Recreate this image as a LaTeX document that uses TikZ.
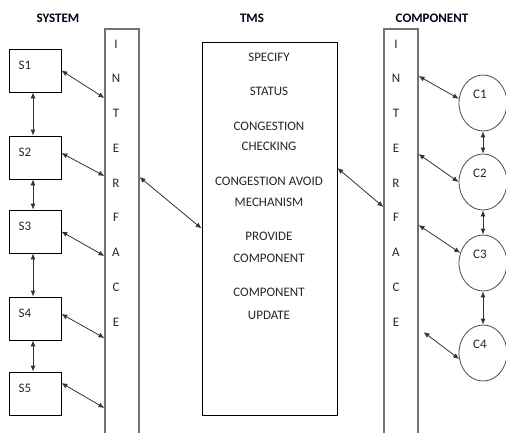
\documentclass[tikz,border=0pt]{standalone}
\usepackage{fontspec}
\setmainfont{Carlito}
\usepackage{xcolor}
\usepackage{tikz}
\usetikzlibrary{positioning, arrows.meta, shapes.geometric}

\begin{document}
\begin{tikzpicture}[x=1pt, y=-1pt, >={Latex[length=6pt,width=5pt]},
    every node/.style={font=\fontsize{13}{15}\selectfont, text=black!85},
    title/.style={font=\fontsize{13}{15}\selectfont\bfseries, text=black!90!blue},
    bar/.style={draw=black!55, line width=1.1pt, minimum width=34pt, minimum height=411pt, inner sep=0pt},
    sbox/.style={draw, line width=0.8pt, minimum width=52pt, minimum height=43pt, inner sep=0pt,
                 label={[anchor=center, xshift=-10pt, yshift=5.5pt]center:#1}},
    cnode/.style={draw=black!70, line width=0.8pt, ellipse, minimum width=48pt, minimum height=56pt, inner sep=0pt,
                  label={[anchor=center, xshift=-3pt, yshift=9pt]center:#1}},
    link/.style={<->, draw=black!80, line width=0.8pt}]
  \useasboundingbox (0,0) rectangle (506,432);
  \clip (0,0) rectangle (506,432);
  % Titles
  \node[title] (tsys) at (58,18) {SYSTEM};
  \node[title] (ttms) at (252,18) {TMS};
  \node[title] (tcomp) at (432,18) {COMPONENT};
  % Interfaces
  \node[bar] (lif) at (122,234.5) {};
  \node[bar] (rif) at (401,234.5) {};
  \foreach \l [count=\i] in {I,N,T,E,R,F,A,C,E} {
    \node (lifl\i) at (116,{44+34.75*(\i-1)}) {\l};
    \node (rifl\i) at (396,{44+34.75*(\i-1)}) {\l};
  }
  % TMS
  \node[draw, line width=0.8pt, minimum width=135pt, minimum height=373pt, inner sep=0pt] (tms) at (269.5,228.5) {};
  \foreach \t/\y [count=\i] in {SPECIFY/57, STATUS/91, CONGESTION/126, CHECKING/146,
      CONGESTION AVOID/181, MECHANISM/202, PROVIDE/236, COMPONENT/258, COMPONENT/292, UPDATE/315}
    \node (op\i) at (269,\y) {\t};
  % Systems
  \foreach \i/\y in {1/70.5, 2/157.5, 3/231.5, 4/318.5, 5/393.5}
    \node[sbox=S\i] (s\i) at (35,\y) {};
  \foreach \i [evaluate=\i as \j using int(\i+1)] in {1,...,4}
    \draw[link] ([xshift=-2pt]s\i.south) -- ([xshift=-2pt]s\j.north);
  \foreach \i/\a/\b in {1/0/27.5, 2/4.5/18.5, 3/0/24.5, 4/4.5/19.5, 5/10.5/14.5}
    \draw[link] ([yshift=\a pt]s\i.east) -- ([yshift=-\b pt]s\i.east -| lif.west);
  % Components
  \foreach \i/\y in {1/103, 2/182, 3/263, 4/353}
    \node[cnode=C\i] (c\i) at (483,\y) {};
  \foreach \i [evaluate=\i as \j using int(\i+1)] in {1,...,3}
    \draw[link] (c\i.south) -- (c\j.north);
  \draw[link] ([yshift=158.5pt]rif.east) -- (c1.170);
  \draw[link] ([yshift=80.5pt]rif.east) -- (c2.180);
  \draw[link] ([yshift=9.5pt]rif.east) -- (c3.156);
  \draw[link] ([xshift=5pt,yshift=-97.5pt]rif.east) -- (c4.194);
  % Interface to TMS
  \draw[link] ([yshift=57.5pt]lif.east) -- (tms.west);
  \draw[link] ([yshift=60.5pt]tms.east) -- ([yshift=27.5pt]rif.west);
\end{tikzpicture}
\end{document}
